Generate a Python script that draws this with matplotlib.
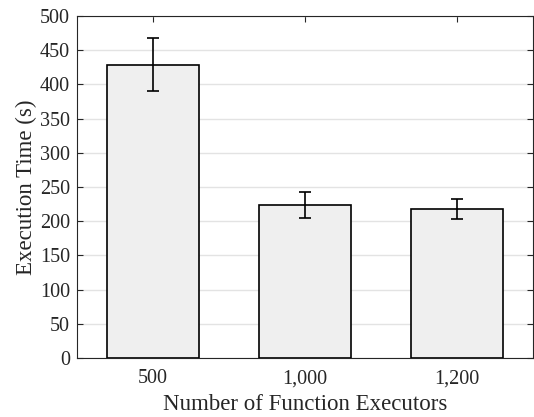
import matplotlib
import matplotlib.pyplot as plt
import numpy as np

matplotlib.use("Agg")

# Data
executors = ["500", "1,000", "1,200"]
exec_time = [429, 223, 218]
exec_err = [39, 19, 15]

plt.rcParams["font.family"] = ["Liberation Serif", "DejaVu Serif"]
plt.rcParams["font.size"] = 14.5

fig = plt.figure(figsize=(5.34, 4.17), dpi=100)
ax = fig.add_axes([0.144, 0.1415, 0.854, 0.82])

x = np.arange(1, len(executors) + 1)
ax.bar(
    x,
    exec_time,
    width=0.6,
    color="#efefef",
    edgecolor="black",
    linewidth=1.2,
    zorder=3,
)
ax.errorbar(
    x,
    exec_time,
    yerr=exec_err,
    fmt="none",
    ecolor="black",
    elinewidth=1.2,
    capsize=4,
    capthick=1.2,
    zorder=4,
)

ax.set_xlim(0.5, 3.5)
ax.set_ylim(0, 500)
ax.set_yticks(np.arange(0, 501, 50))
ax.set_xticks(x)
ax.set_xticklabels(executors)

ax.grid(axis="y", color="#e3e3e3", linewidth=1.0, zorder=0)
ax.set_axisbelow(True)

ax.tick_params(direction="in", top=True, right=True, length=4, width=0.8,
               colors="#262626", labelcolor="#262626")
ax.tick_params(axis="x", pad=8)
ax.tick_params(axis="y", pad=5)
for spine in ax.spines.values():
    spine.set_color("#262626")
    spine.set_linewidth(0.8)

ax.set_xlabel("Number of Function Executors", color="#262626",
              fontsize=16.5, labelpad=4)
ax.set_ylabel("Execution Time (s)", color="#262626",
              fontsize=16.5, labelpad=2)

plt.savefig("out.png", dpi=100)
plt.close()
